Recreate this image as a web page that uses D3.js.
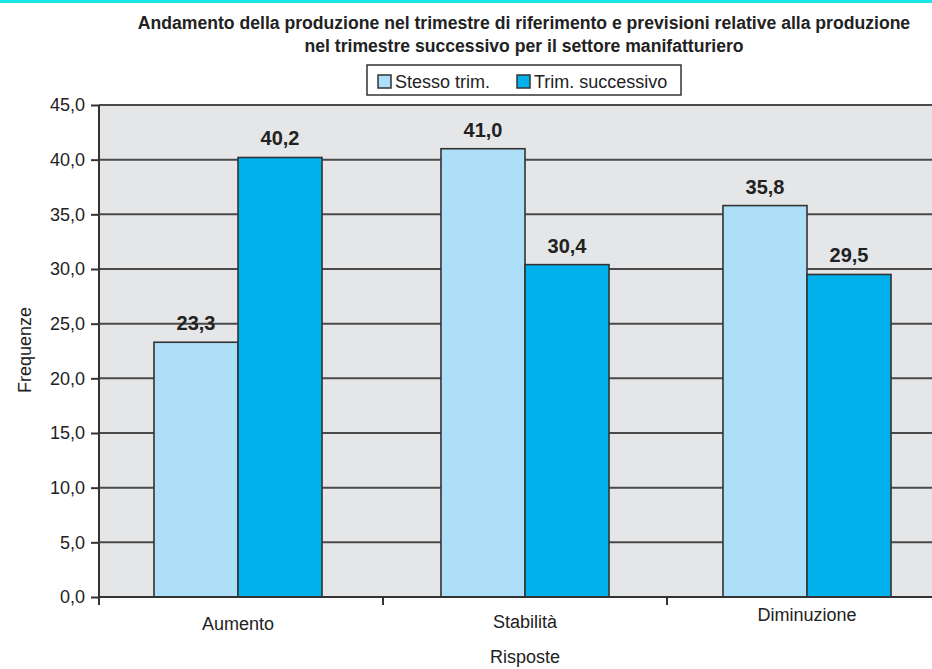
<!DOCTYPE html>
<html>
<head>
<meta charset="utf-8">
<script src="https://cdn.jsdelivr.net/npm/d3@7"></script>
<style>
  body { margin: 0; background: #ffffff; }
  svg { display: block; font-family: "Liberation Sans", Arial, sans-serif; }
</style>
</head>
<body>
<div id="container"></div>
<script>
// data
let categories = ["Aumento", "Stabilità", "Diminuzione"];
let seriesNames = ["Stesso trim.", "Trim. successivo"];
let stessoTrim = [23.3, 41.0, 35.8];
let trimSuccessivo = [40.2, 30.4, 29.5];
let yTicks = [0, 5, 10, 15, 20, 25, 30, 35, 40, 45];
let titleLines = [
  "Andamento della produzione nel trimestre di riferimento e previsioni relative alla produzione",
  "nel trimestre successivo per il settore manifatturiero"
];

let w = 932;
let h = 669;
let colors = ["#addff8", "#00b1ec"];
let labelDy = [33, 31, 24]; // category labels sit at slightly different heights in the original
let groupShift = [-3, 0, -2]; // small offsets of bar pairs within their band

let viz = d3.select("#container").append("svg")
    .attr("width", w)
    .attr("height", h);

// cyan rule along the top
viz.append("rect").attr("x", 0).attr("y", 0).attr("width", w).attr("height", 3).attr("fill", "#1ae6e6");

let left = 99;
let bandW = 284;
let yTop = 105;
let yBottom = 597;

let xScale = d3.scaleBand().domain(categories).range([left, left + bandW * categories.length]);
let xSub = d3.scaleBand().domain(seriesNames).range([0, xScale.bandwidth()]).paddingOuter(0.69);
let yScale = d3.scaleLinear().domain([0, 45]).range([yBottom, yTop]);

// plot background
viz.append("rect")
    .attr("x", left).attr("y", yTop)
    .attr("width", w - left).attr("height", yBottom - yTop)
    .attr("fill", "#e5e6e8");

// gridlines
viz.append("g").selectAll("line").data(yTicks.filter(d => d > 0)).join("line")
    .attr("x1", left).attr("x2", w)
    .attr("y1", d => yScale(d)).attr("y2", d => yScale(d))
    .attr("stroke", "#4a4a4a").attr("stroke-width", 2);

// bars
let rows = categories.map((c, i) => ({ cat: c, i: i, values: [stessoTrim[i], trimSuccessivo[i]] }));
let groups = viz.append("g").selectAll("g").data(rows).join("g")
    .attr("transform", d => "translate(" + (xScale(d.cat) + groupShift[d.i]) + ",0)");

groups.selectAll("rect").data(d => d.values.map((v, j) => ({ name: seriesNames[j], v: v, j: j }))).join("rect")
    .attr("x", d => xSub(d.name))
    .attr("y", d => yScale(d.v))
    .attr("width", xSub.bandwidth())
    .attr("height", d => yBottom - yScale(d.v))
    .attr("fill", d => colors[d.j])
    .attr("stroke", "#333333")
    .attr("stroke-width", 1.6);

let fmt = v => d3.format(".1f")(v).replace(".", ",");

groups.selectAll("text").data(d => d.values.map((v, j) => ({ name: seriesNames[j], v: v }))).join("text")
    .attr("x", d => xSub(d.name) + xSub.bandwidth() / 2)
    .attr("y", d => yScale(d.v) - 12)
    .attr("text-anchor", "middle")
    .attr("font-weight", "bold")
    .attr("font-size", "20px")
    .attr("fill", "#222")
    .text(d => fmt(d.v));

// y axis
let yAxis = d3.axisLeft(yScale).tickValues(yTicks).tickSize(8).tickPadding(6).tickFormat(fmt);
let yAxisGroup = viz.append("g").attr("transform", "translate(" + left + ",0)").call(yAxis);
yAxisGroup.select(".domain").remove();
yAxisGroup.selectAll("line").attr("stroke", "#333").attr("stroke-width", 2);
yAxisGroup.selectAll("text").attr("font-size", "18px").attr("fill", "#222").attr("font-family", "Liberation Sans, Arial, sans-serif");
viz.append("line").attr("x1", left).attr("x2", left).attr("y1", yTop).attr("y2", yBottom + 8)
    .attr("stroke", "#333").attr("stroke-width", 2);

// x axis
viz.append("line").attr("x1", left).attr("x2", w).attr("y1", yBottom).attr("y2", yBottom)
    .attr("stroke", "#333").attr("stroke-width", 2);
viz.append("g").selectAll("line").data(categories.slice(1)).join("line")
    .attr("x1", d => xScale(d)).attr("x2", d => xScale(d))
    .attr("y1", yBottom).attr("y2", yBottom + 8)
    .attr("stroke", "#333").attr("stroke-width", 2);
viz.append("g").selectAll("text").data(categories).join("text")
    .attr("x", (d, i) => xScale(d) + xScale.bandwidth() / 2 + groupShift[i])
    .attr("y", (d, i) => yBottom + labelDy[i])
    .attr("text-anchor", "middle")
    .attr("font-size", "18px")
    .attr("fill", "#222")
    .text(d => d);

// axis titles
viz.append("text").attr("x", 525).attr("y", 663).attr("text-anchor", "middle")
    .attr("font-size", "18px").attr("fill", "#222").text("Risposte");
viz.append("text").attr("transform", "translate(31,350) rotate(-90)").attr("text-anchor", "middle")
    .attr("font-size", "18px").attr("fill", "#222").text("Frequenze");

// title
viz.append("g").selectAll("text").data(titleLines).join("text")
    .attr("x", 524)
    .attr("y", (d, i) => 29 + i * 23)
    .attr("text-anchor", "middle")
    .attr("font-family", "Liberation Sans Narrow, Arial Narrow, Liberation Sans, sans-serif")
    .attr("font-weight", "bold")
    .attr("font-size", "17.6px")
    .attr("fill", "#222")
    .text(d => d);

// legend
let legend = viz.append("g");
legend.append("rect").attr("x", 367).attr("y", 65).attr("width", 314).attr("height", 30)
    .attr("fill", "#fff").attr("stroke", "#333").attr("stroke-width", 1.5);
let legendX = [378, 517];
seriesNames.forEach((name, i) => {
  legend.append("rect").attr("x", legendX[i]).attr("y", 75).attr("width", 13).attr("height", 13)
      .attr("fill", colors[i]).attr("stroke", "#333").attr("stroke-width", 1.5);
  legend.append("text").attr("x", legendX[i] + 17).attr("y", 88)
      .attr("font-size", "18px").attr("fill", "#222").text(name);
});
</script>
</body>
</html>
